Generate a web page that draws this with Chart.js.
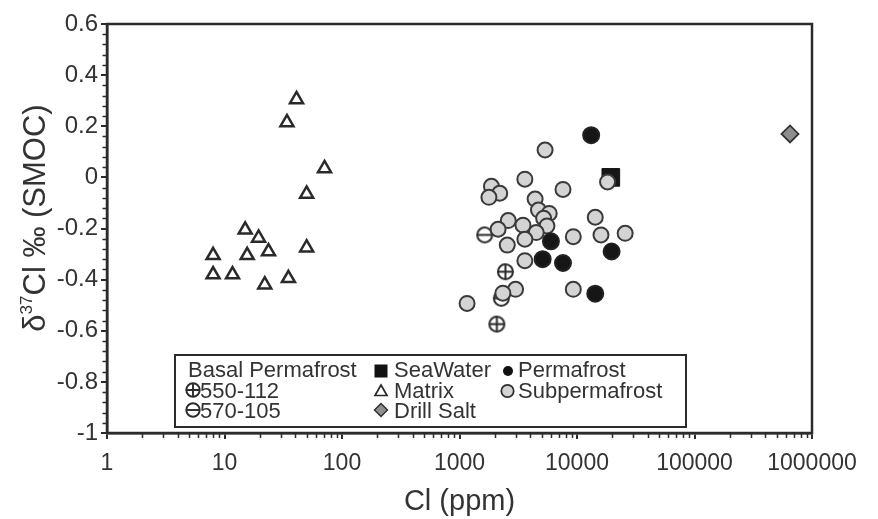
<!DOCTYPE html>
<html><head><meta charset="utf-8">
<script src="https://cdn.jsdelivr.net/npm/chart.js@4.4.1/dist/chart.umd.min.js"></script>
<style>html,body{margin:0;padding:0;background:#fff}#wrap{width:878px;height:519px;position:relative}</style>
</head><body><div id="wrap"><canvas id="c" width="878" height="519"></canvas></div>
<script>
// ---- data ----
const xTickValues = [1, 10, 100, 1000, 10000, 100000, 1000000];
const yTickValues = [-1, -0.8, -0.6, -0.4, -0.2, 0, 0.2, 0.4, 0.6];

const matrixCl = [41, 34, 71, 50, 15, 19.5, 8, 15.6, 23.7, 50, 8, 11.7, 22, 35];
const matrixD  = [0.305, 0.215, 0.035, -0.065, -0.205, -0.237, -0.305, -0.305, -0.29, -0.275, -0.38, -0.38, -0.42, -0.395];

const permaCl = [13200, 6000, 19700, 5100, 7600, 14300];
const permaD  = [0.165, -0.25, -0.29, -0.32, -0.335, -0.455];

const subCl = [5350, 3600, 1870, 2200, 1780, 7600, 18200, 4400, 4700, 5800, 5200, 5550, 2600, 2130,
               3470, 4500, 3600, 2550, 9300, 14300, 16000, 25700, 3600, 3000, 2340, 9300, 1160];
const subD  = [0.107, -0.007, -0.035, -0.062, -0.078, -0.047, -0.018, -0.085, -0.128, -0.141, -0.160, -0.190, -0.169, -0.203,
               -0.187, -0.216, -0.242, -0.265, -0.232, -0.156, -0.225, -0.219, -0.326, -0.438, -0.453, -0.438, -0.493];

const plusCl = [2460, 2080];      // 550-112
const plusD  = [-0.369, -0.574];
const minusCl = [1640, 2270];     // 570-105
const minusD  = [-0.225, -0.473];

const seaCl = [19400];
const seaD  = [0.0];
const saltCl = [650000];
const saltD  = [0.17];

const legendCol1 = ['Basal Permafrost', '550-112', '570-105'];
const legendCol2 = ['SeaWater', 'Matrix', 'Drill Salt'];
const legendCol3 = ['Permafrost', 'Subpermafrost'];

// ---- helpers ----
const INK = '#2b2b2b';
const FONT = '"Liberation Sans", Arial, sans-serif';
const pts = (xs, ys) => xs.map((x, i) => ({x: x, y: ys[i]}));

function circleSymbol(kind, r) {
  const s = Math.ceil(r * 2 + 4);
  const cv = document.createElement('canvas');
  cv.width = s; cv.height = s;
  const g = cv.getContext('2d');
  const c = s / 2;
  g.beginPath(); g.arc(c, c, r, 0, Math.PI * 2);
  g.fillStyle = '#fff'; g.fill();
  g.lineWidth = 2; g.strokeStyle = INK; g.stroke();
  g.beginPath();
  g.moveTo(c - r, c); g.lineTo(c + r, c);
  if (kind === 'plus') { g.moveTo(c, c - r); g.lineTo(c, c + r); }
  g.stroke();
  return cv;
}
const plusImg = circleSymbol('plus', 7.5);
const minusImg = circleSymbol('minus', 7.5);

function drawMarker(ctx, type, x, y) {
  ctx.save();
  ctx.strokeStyle = INK; ctx.lineWidth = 1.8;
  if (type === 'square') {
    ctx.fillStyle = '#111'; ctx.fillRect(x - 6.5, y - 6.5, 13, 13);
  } else if (type === 'triangle') {
    ctx.beginPath(); ctx.moveTo(x, y - 6); ctx.lineTo(x + 6, y + 4.5); ctx.lineTo(x - 6, y + 4.5); ctx.closePath();
    ctx.fillStyle = '#fff'; ctx.fill(); ctx.lineWidth = 1.7; ctx.stroke();
  } else if (type === 'diamond') {
    ctx.beginPath(); ctx.moveTo(x, y - 6.5); ctx.lineTo(x + 6.5, y); ctx.lineTo(x, y + 6.5); ctx.lineTo(x - 6.5, y); ctx.closePath();
    ctx.fillStyle = '#8e8e8e'; ctx.fill(); ctx.lineWidth = 1.4; ctx.stroke();
  } else if (type === 'dot') {
    ctx.beginPath(); ctx.arc(x, y, 5, 0, Math.PI * 2); ctx.fillStyle = '#111'; ctx.fill();
  } else if (type === 'grey') {
    ctx.beginPath(); ctx.arc(x, y, 6.2, 0, Math.PI * 2); ctx.fillStyle = '#d4d4d4'; ctx.fill(); ctx.lineWidth = 1.7; ctx.stroke();
  } else if (type === 'plus' || type === 'minus') {
    ctx.beginPath(); ctx.arc(x, y, 6.7, 0, Math.PI * 2); ctx.lineWidth = 1.9; ctx.stroke();
    ctx.beginPath(); ctx.moveTo(x - 6.7, y); ctx.lineTo(x + 6.7, y);
    if (type === 'plus') { ctx.moveTo(x, y - 6.7); ctx.lineTo(x, y + 6.7); }
    ctx.stroke();
  }
  ctx.restore();
}

const decor = {
  id: 'decor',
  afterDraw(chart) {
    const ctx = chart.ctx, a = chart.chartArea;
    const xs = chart.scales.x, ys = chart.scales.y;
    ctx.save();
    // frame
    ctx.strokeStyle = INK; ctx.lineWidth = 2.5;
    ctx.strokeRect(a.left, a.top, a.right - a.left, a.bottom - a.top);
    // minor ticks x (log 2..9)
    ctx.lineWidth = 1.5;
    ctx.beginPath();
    for (let d = 0; d < xTickValues.length - 1; d++) {
      for (let m = 2; m <= 9; m++) {
        const px = Math.round(xs.getPixelForValue(xTickValues[d] * m)) + 0.5;
        ctx.moveTo(px, a.bottom); ctx.lineTo(px, a.bottom + 5);
      }
    }
    // minor ticks y (every 0.04)
    for (let i = 0; i < yTickValues.length - 1; i++) {
      for (let k = 1; k < 5; k++) {
        const v = yTickValues[i] + k * 0.04;
        const py = Math.round(ys.getPixelForValue(v)) + 0.5;
        ctx.moveTo(a.left - 4.5, py); ctx.lineTo(a.left, py);
      }
    }
    ctx.stroke();

    // y-axis title with superscript
    ctx.fillStyle = '#333';
    ctx.translate(45, 218);
    ctx.rotate(-Math.PI / 2);
    const big = '31px ' + FONT, small = '17px ' + FONT;
    ctx.font = big; const w1 = ctx.measureText('\u03B4').width;
    ctx.font = small; const w2 = ctx.measureText('37').width;
    ctx.font = big; const w3 = ctx.measureText('Cl \u2030 (SMOC)').width;
    let x0 = -(w1 + w2 + w3) / 2;
    ctx.textBaseline = 'alphabetic'; ctx.textAlign = 'left';
    ctx.font = big; ctx.fillText('\u03B4', x0, 0); x0 += w1;
    ctx.font = small; ctx.fillText('37', x0, -13); x0 += w2;
    ctx.font = big; ctx.fillText('Cl \u2030 (SMOC)', x0, 0);
    ctx.restore();

    // legend box
    ctx.save();
    ctx.fillStyle = '#fff';
    ctx.fillRect(175, 355, 511, 72);
    ctx.strokeStyle = INK; ctx.lineWidth = 2;
    ctx.strokeRect(175, 355, 511, 72);
    ctx.fillStyle = '#333';
    ctx.font = '22px ' + FONT; ctx.textBaseline = 'alphabetic'; ctx.textAlign = 'left';
    const base = [377, 398, 418];
    ctx.fillText(legendCol1[0], 188, base[0]);
    drawMarker(ctx, 'plus', 193, 390); ctx.fillText(legendCol1[1], 200, base[1]);
    drawMarker(ctx, 'minus', 193, 410); ctx.fillText(legendCol1[2], 200, base[2]);
    const m2 = ['square', 'triangle', 'diamond'];
    const my = [371, 391, 410];
    for (let i = 0; i < 3; i++) { drawMarker(ctx, m2[i], 381, my[i]); ctx.fillText(legendCol2[i], 394, base[i]); }
    drawMarker(ctx, 'dot', 508, 371); ctx.fillText(legendCol3[0], 518, base[0]);
    drawMarker(ctx, 'grey', 507.5, 391); ctx.fillText(legendCol3[1], 518, base[1]);
    ctx.restore();
  }
};

new Chart(document.getElementById('c'), {
  type: 'scatter',
  data: {
    datasets: [
      { label: 'Permafrost', data: pts(permaCl, permaD), pointStyle: 'circle', radius: 8, borderWidth: 2,
        backgroundColor: '#161616', borderColor: '#222' },
      { label: 'Subpermafrost', data: pts(subCl, subD), pointStyle: 'circle', radius: 7.5, borderWidth: 2,
        backgroundColor: '#d4d4d4', borderColor: '#3a3a3a' },
      { label: '550-112', data: pts(plusCl, plusD), pointStyle: plusImg },
      { label: '570-105', data: pts(minusCl, minusD), pointStyle: minusImg },
      { label: 'SeaWater', data: pts(seaCl, seaD), pointStyle: 'rect', radius: 12.5, borderWidth: 1,
        backgroundColor: '#161616', borderColor: '#161616' },
      { label: 'Matrix', data: pts(matrixCl, matrixD), pointStyle: 'triangle', radius: 7.5, borderWidth: 2.5,
        backgroundColor: '#fff', borderColor: '#2a2a2a' },
      { label: 'Drill Salt', data: pts(saltCl, saltD), pointStyle: 'rectRot', radius: 8.5, borderWidth: 1.8,
        backgroundColor: '#8e8e8e', borderColor: '#333' }
    ]
  },
  options: {
    responsive: false,
    animation: false,
    events: [],
    layout: { padding: { top: 24, right: 66, left: 0, bottom: 0 } },
    plugins: { legend: { display: false }, tooltip: { enabled: false } },
    scales: {
      x: {
        type: 'logarithmic', min: 1, max: 1000000,
        afterBuildTicks: s => { s.ticks = xTickValues.map(v => ({ value: v })); },
        afterFit: s => { s.height = 86; },
        ticks: { callback: v => String(v), font: { family: FONT, size: 23 }, color: '#333', padding: 11, maxRotation: 0, autoSkip: false },
        grid: { drawOnChartArea: false, tickLength: 6, color: INK, lineWidth: 2 },
        border: { color: INK, width: 2.5 },
        title: { display: true, text: 'Cl (ppm)', font: { family: FONT, size: 29 }, color: '#333', padding: { top: 0, bottom: 0 } }
      },
      y: {
        type: 'linear', min: -1, max: 0.6,
        afterBuildTicks: s => { s.ticks = yTickValues.map(v => ({ value: v })); },
        afterFit: s => { s.width = 107; },
        ticks: { callback: v => String(Number(v.toFixed(1))), font: { family: FONT, size: 24 }, color: '#333', padding: 3 },
        grid: { drawOnChartArea: false, tickLength: 6, color: INK, lineWidth: 2 },
        border: { color: INK, width: 2.5 }
      }
    }
  },
  plugins: [decor]
});
</script>
</body></html>
